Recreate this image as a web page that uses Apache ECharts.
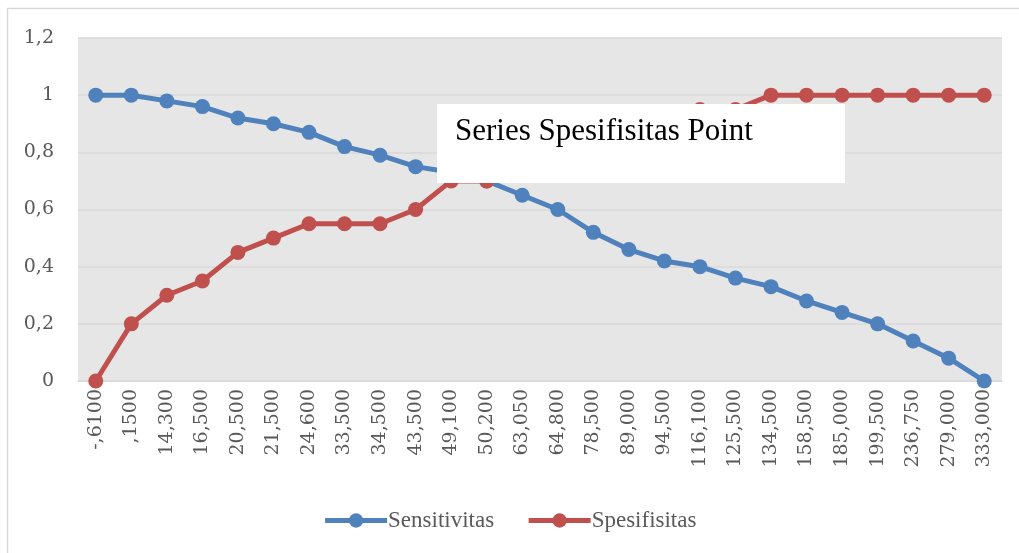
<!DOCTYPE html>
<html>
<head>
<meta charset="utf-8">
<script src="https://cdn.jsdelivr.net/npm/echarts@6/dist/echarts.min.js"></script>
<style>
  html, body { margin: 0; padding: 0; background: #fff; }
  #chart { width: 1019px; height: 553px; }
</style>
</head>
<body>
<div id="chart"></div>
<script>
// tick labels on the x axis
var categories = ['-,6100', ',1500', '14,300', '16,500', '20,500', '21,500', '24,600', '33,500', '34,500',
    '43,500', '49,100', '50,200', '63,050', '64,800', '78,500', '89,000', '94,500', '116,100', '125,500',
    '134,500', '158,500', '185,000', '199,500', '236,750', '279,000', '333,000'];

var sensitivitas = [1, 1, 0.98, 0.96, 0.92, 0.9, 0.87, 0.82, 0.79, 0.75, 0.73, 0.7, 0.65, 0.6,
    0.52, 0.46, 0.42, 0.4, 0.36, 0.33, 0.28, 0.24, 0.2, 0.14, 0.08, 0];

var spesifisitas = [0, 0.2, 0.3, 0.35, 0.45, 0.5, 0.55, 0.55, 0.55, 0.6, 0.7, 0.7, 0.75, 0.8,
    0.85, 0.85, 0.9, 0.95, 0.95, 1, 1, 1, 1, 1, 1, 1];

var serif = '"Liberation Serif", serif';
var wideSerif = '"DejaVu Serif", serif';

var chart = echarts.init(document.getElementById('chart'));

var option = {
    animation: false,
    backgroundColor: '#ffffff',
    grid: {
        left: 78,
        right: 17,
        top: 38,
        bottom: 172,
        show: true,
        backgroundColor: '#e7e6e6',
        borderWidth: 0
    },
    legend: {
        bottom: 16,
        left: 'center',
        itemWidth: 62,
        itemHeight: 18,
        itemGap: 32,
        lineStyle: { width: 5 },
        textStyle: { fontFamily: serif, fontSize: 23, color: '#595959', padding: [0, 0, 0, -4] },
        data: ['Sensitivitas', 'Spesifisitas']
    },
    xAxis: {
        type: 'category',
        data: categories,
        boundaryGap: true,
        axisLine: { lineStyle: { color: '#d9d9d9', width: 1 } },
        axisTick: { show: false },
        axisLabel: {
            rotate: 90,
            interval: 0,
            margin: 8,
            fontFamily: wideSerif,
            fontSize: 19,
            color: '#595959'
        }
    },
    yAxis: {
        type: 'value',
        min: 0,
        max: 1.2,
        interval: 0.2,
        axisLine: { show: false },
        axisTick: { show: false },
        splitLine: { lineStyle: { color: '#d9d9d9', width: 1.5 } },
        axisLabel: {
            margin: 24,
            fontFamily: wideSerif,
            fontSize: 19,
            color: '#595959',
            formatter: function (v) {
                return String(Math.round(v * 10) / 10).replace('.', ',');
            }
        }
    },
    series: [
        {
            name: 'Sensitivitas',
            type: 'line',
            data: sensitivitas,
            symbol: 'circle',
            symbolSize: 15,
            itemStyle: { color: '#4f81bd' },
            lineStyle: { color: '#4f81bd', width: 5 },
            z: 2
        },
        {
            name: 'Spesifisitas',
            type: 'line',
            data: spesifisitas,
            symbol: 'circle',
            symbolSize: 15,
            itemStyle: { color: '#c0504d' },
            lineStyle: { color: '#c0504d', width: 5 },
            z: 3
        }
    ],
    graphic: [
        {
            // outer chart frame
            type: 'rect',
            shape: { x: 7.5, y: 8.5, width: 1100, height: 700 },
            style: { fill: 'none', stroke: '#d9d9d9', lineWidth: 1.5 },
            silent: true
        },
        {
            type: 'rect',
            zlevel: 1,
            shape: { x: 437, y: 104, width: 408, height: 79 },
            style: { fill: '#ffffff' }
        },
        {
            type: 'text',
            zlevel: 1,
            z: 10,
            x: 455,
            y: 116,
            style: {
                text: 'Series Spesifisitas Point',
                fontFamily: serif,
                fontSize: 31,
                fill: '#000000'
            }
        }
    ]
};

chart.setOption(option);
</script>
</body>
</html>
